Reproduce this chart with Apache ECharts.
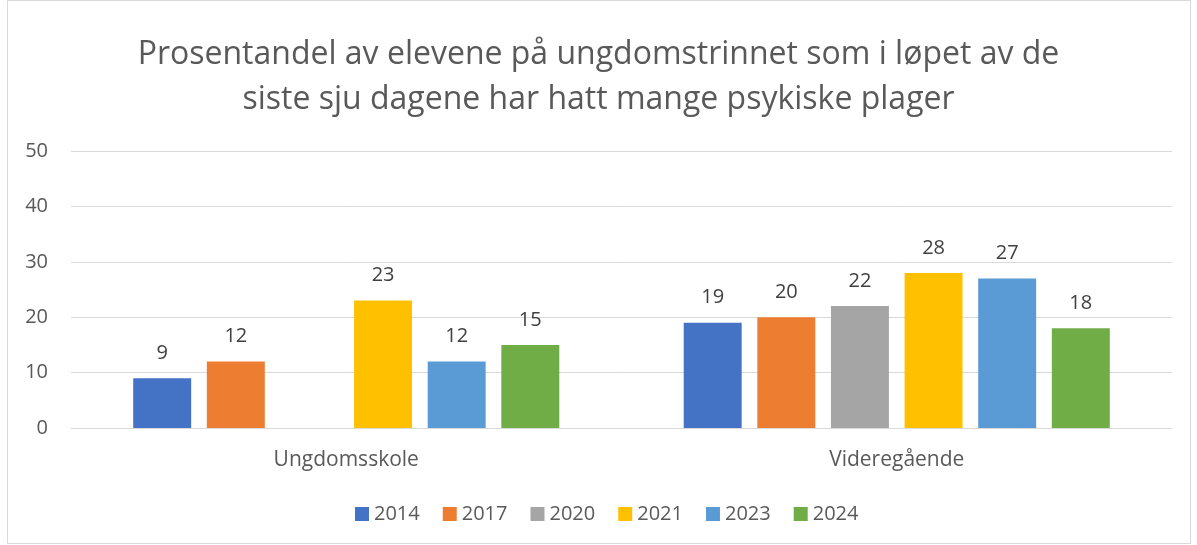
<!DOCTYPE html>
<html>
<head>
<meta charset="utf-8">
<script src="https://cdn.jsdelivr.net/npm/echarts@6/dist/echarts.min.js"></script>
<style>
  html, body { margin: 0; padding: 0; background: #fff; }
</style>
</head>
<body>
<div id="main" style="width: 1197px; height: 545px"></div>
<script>
// categories and series data
const categories = ['Ungdomsskole', 'Videregående']
const years = ['2014', '2017', '2020', '2021', '2023', '2024']
const colors = ['#4472C4', '#ED7D31', '#A5A5A5', '#FFC000', '#5B9BD5', '#70AD47']
const v2014 = [9, 19]
const v2017 = [12, 20]
const v2020 = [null, 22]
const v2021 = [23, 28]
const v2023 = [12, 27]
const v2024 = [15, 18]
const yTicks = [0, 10, 20, 30, 40, 50]

const values = [v2014, v2017, v2020, v2021, v2023, v2024]
const font = '"Open Sans", "Noto Sans", sans-serif'

var myChart = echarts.init(document.getElementById('main'))

var option = {
  backgroundColor: '#fff',
  textStyle: { fontFamily: font },
  title: {
    text: 'Prosentandel av elevene på ungdomstrinnet som i løpet av de\nsiste sju dagene har hatt mange psykiske plager',
    left: 'center',
    top: 27,
    textStyle: {
      fontFamily: font,
      fontSize: 32,
      fontWeight: 'normal',
      color: '#595959',
      lineHeight: 45
    }
  },
  graphic: [{
    type: 'rect',
    shape: { x: 7.5, y: 0.5, width: 1183, height: 543 },
    style: { fill: 'none', stroke: '#d9d9d9', lineWidth: 1 },
    silent: true
  }],
  legend: {
    data: years,
    bottom: 16,
    left: 350,
    itemWidth: 14,
    itemHeight: 14,
    itemGap: 23,
    icon: 'rect',
    textStyle: { fontFamily: font, fontSize: 20, color: '#595959' }
  },
  grid: {
    left: 71,
    right: 25,
    top: 151,
    bottom: 117
  },
  xAxis: {
    type: 'category',
    data: categories,
    axisTick: { show: false },
    axisLine: { lineStyle: { color: '#d9d9d9', width: 1 } },
    axisLabel: { fontFamily: font, fontSize: 21, color: '#595959', margin: 22 }
  },
  yAxis: {
    type: 'value',
    min: yTicks[0],
    max: yTicks[yTicks.length - 1],
    interval: 10,
    axisLine: { show: false },
    axisTick: { show: false },
    axisLabel: { fontFamily: font, fontSize: 20, color: '#595959', margin: 23 },
    splitLine: { lineStyle: { color: '#d9d9d9', width: 1 } }
  },
  series: years.map(function(y, i) {
    return {
      name: y,
      type: 'bar',
      data: values[i],
      itemStyle: { color: colors[i] },
      barGap: '27%',
      barCategoryGap: '22.6%',
      label: {
        show: true,
        position: 'top',
        distance: 15,
        fontFamily: font,
        fontSize: 20,
        color: '#404040'
      }
    }
  })
}

myChart.setOption(option)
</script>
</body>
</html>
